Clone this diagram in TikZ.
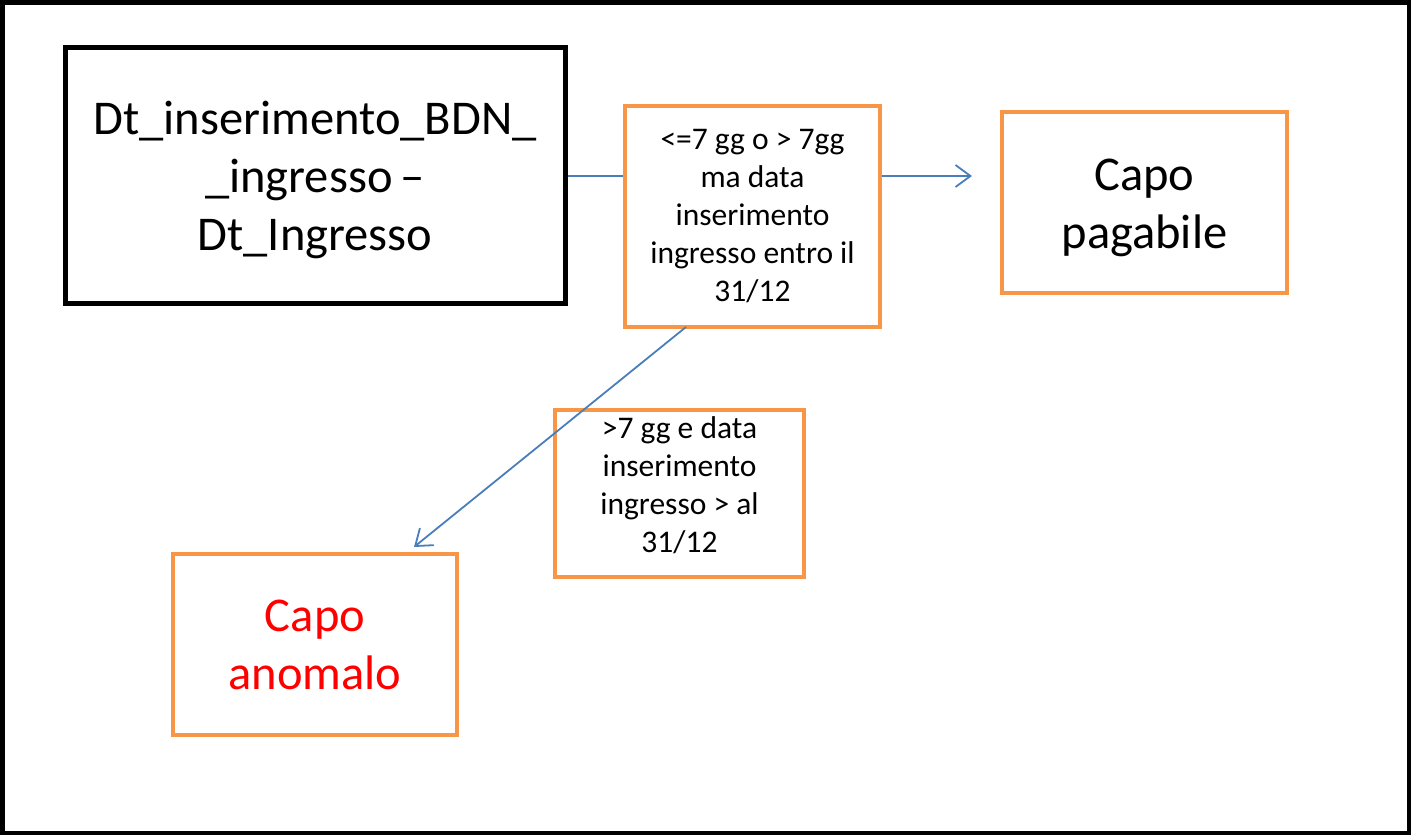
\documentclass[tikz,border=0pt]{standalone}
\usepackage{fontspec}
\setmainfont{Carlito}
\usetikzlibrary{arrows.meta}
\definecolor{orng}{RGB}{247,150,70}
\definecolor{lnblue}{RGB}{74,126,187}
\definecolor{txtred}{RGB}{255,0,0}
\tikzset{
  bigfont/.style={font=\fontsize{48.5}{58}\selectfont},
  smallfont/.style={font=\fontsize{31.5}{38}\selectfont},
  blackbox/.style={draw=black, line width=5pt, rectangle, align=center, inner sep=0pt},
  orangebox/.style={draw=orng, line width=4pt, rectangle, align=center, inner sep=0pt},
  conn/.style={draw=lnblue, line width=1.8pt},
  arr/.style={conn, -{Straight Barb[length=15pt,width=22pt,line width=1.8pt]}},
}
\begin{document}
\begin{tikzpicture}[x=1pt,y=-1pt]
\useasboundingbox (0,0) rectangle (1411,835);
\draw[line width=4.5pt] (2.25,2.25) rectangle (1408.75,832.75);

\node[blackbox, minimum width=500pt, minimum height=256pt] (src) at (315,175) {};
\node[bigfont, align=center] (srct) at (315,180) {Dt\_inserimento\_BDN\_\\\_ingresso\,–\\Dt\_Ingresso};

\node[orangebox, smallfont, minimum width=255pt, minimum height=221pt] (cond1) at (752.5,216.5)
  {<=7 gg o > 7gg\\ma data\\inserimento\\ingresso entro il\\31/12};

\node[orangebox, bigfont, minimum width=285pt, minimum height=181pt] (pag) at (1144.5,202.5) {};
\node[bigfont, align=center] (pagt) at (1144.5,208) {Capo\\pagabile};

\node[orangebox, minimum width=249pt, minimum height=167pt] (cond2) at (679.5,493.5) {};
\node[smallfont, align=center] (cond2t) at (679.5,485) {>7 gg e data\\inserimento\\ingresso > al\\31/12};

\node[orangebox, bigfont, text=txtred, minimum width=284pt, minimum height=181pt] (anom) at (315,644.5)
  {Capo\\anomalo};

\coordinate (pagend) at (972,176);
\coordinate (anomend) at (414,547);
\coordinate (c1bot) at (686,327);

\draw[conn] (src.east |- pagend) -- (cond1.west |- pagend);
\draw[arr] (cond1.east |- pagend) -- (pagend);
\draw[arr] (c1bot) -- (anomend);
\end{tikzpicture}
\end{document}
